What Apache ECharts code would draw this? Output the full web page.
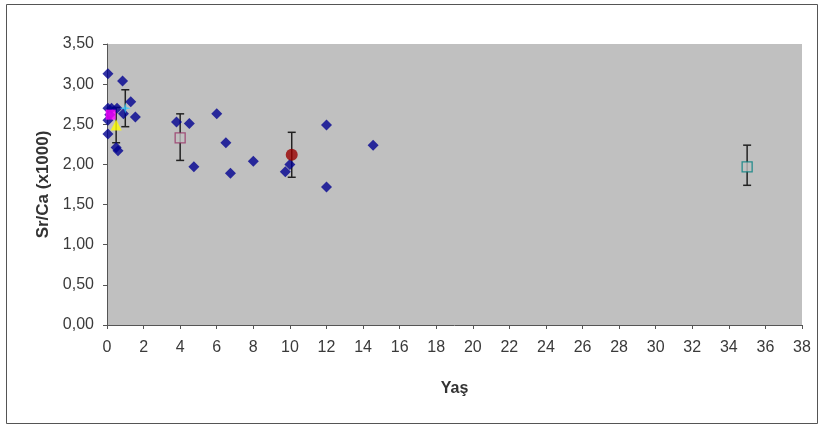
<!DOCTYPE html>
<html><head><meta charset="utf-8">
<script src="https://cdn.jsdelivr.net/npm/echarts@6/dist/echarts.min.js"></script>
<style>html,body{margin:0;padding:0;background:#fff}#c{width:824px;height:427px}</style>
</head><body><div id="c"></div>
<script>
const xTicks = [0,2,4,6,8,10,12,14,16,18,20,22,24,26,28,30,32,34,36,38];
const yTicks = ['0,00','0,50','1,00','1,50','2,00','2,50','3,00','3,50'];
const blueX = [0.05,0.85,0.05,0.25,0.55,0.05,0.05,0.5,0.6,1.3,1.55,0.15,0.9,3.8,4.5,6.0,6.5,4.75,6.75,8.0,9.75,10.0,12.0,12.0,14.55];
const blueY = [3.13,3.04,2.70,2.70,2.70,2.55,2.38,2.21,2.17,2.78,2.59,2.62,2.63,2.53,2.51,2.63,2.27,1.97,1.89,2.04,1.91,2.00,2.49,1.72,2.24];
const magenta = [0.2,2.62];
const yellow = [0.5,2.49,2.27,2.71];
const cyan = [1.0,2.70,2.47,2.93];
const pinkSq = [4.0,2.33,2.05,2.63];
const redCirc = [10.1,2.12,1.84,2.40];
const tealSq = [35.0,1.97,1.74,2.24];

const blueData = blueX.map((x,i)=>[x,blueY[i]]);
const errData = [yellow,cyan,pinkSq,redCirc,tealSq].map(a=>[a[0],a[2],a[3]]);

const chart = echarts.init(document.getElementById('c'));
const font = 'Liberation Sans, Arial, sans-serif';
chart.setOption({
  animation:false,
  backgroundColor:'#fff',
  graphic:[{type:'rect',shape:{x:6.5,y:4.5,width:811,height:419},style:{fill:'none',stroke:'#555',lineWidth:1},z:-1}],
  grid:{left:107,right:22,top:44,bottom:102,show:true,backgroundColor:'#c0c0c0',borderWidth:0},
  xAxis:{type:'value',min:0,max:38,interval:2,
    name:'Yaş',nameLocation:'middle',nameGap:56,
    nameTextStyle:{fontFamily:font,fontSize:16,fontWeight:'bold',color:'#333'},
    axisLine:{lineStyle:{color:'#555'}},axisTick:{show:true,length:4,lineStyle:{color:'#555'}},
    axisLabel:{fontFamily:font,fontSize:16,color:'#3a3a3a',margin:15},
    splitLine:{show:false}},
  yAxis:{type:'value',min:0,max:3.5,interval:0.5,
    name:'Sr/Ca (x1000)',nameLocation:'middle',nameGap:52,
    nameTextStyle:{fontFamily:font,fontSize:17,fontWeight:'bold',color:'#333'},
    axisLine:{show:true,lineStyle:{color:'#555'}},axisTick:{show:true,length:4,lineStyle:{color:'#555'}},
    axisLabel:{fontFamily:font,fontSize:16,color:'#3a3a3a',margin:13,formatter:v=>yTicks[Math.round(v/0.5)]},
    splitLine:{show:false}},
  series:[
    {type:'custom',renderItem:(p,api)=>{
      const x=api.value(0), lo=api.coord([x,api.value(1)]), hi=api.coord([x,api.value(2)]);
      const w=4;
      return {type:'group',children:[
        {type:'line',shape:{x1:lo[0],y1:lo[1],x2:hi[0],y2:hi[1]},style:{stroke:'#222',lineWidth:1.5}},
        {type:'line',shape:{x1:lo[0]-w,y1:lo[1],x2:lo[0]+w,y2:lo[1]},style:{stroke:'#222',lineWidth:1.5}},
        {type:'line',shape:{x1:hi[0]-w,y1:hi[1],x2:hi[0]+w,y2:hi[1]},style:{stroke:'#222',lineWidth:1.5}}
      ]};
    },data:errData,z:1},
    {type:'scatter',data:blueData,symbol:'diamond',symbolSize:11,itemStyle:{color:'#000090'},z:3},
    {type:'scatter',data:[magenta],symbol:'rect',symbolSize:10,itemStyle:{color:'#ff00ff'},z:4},
    {type:'scatter',data:[yellow.slice(0,2)],symbol:'triangle',symbolSize:11,itemStyle:{color:'#ffff00'},z:4},
    {type:'scatter',data:[cyan.slice(0,2)],symbol:'path://M0,-10L2,-2L10,0L2,2L0,10L-2,2L-10,0L-2,-2Z',symbolSize:11,itemStyle:{color:'#33ccff'},z:4},
    {type:'scatter',data:[pinkSq.slice(0,2)],symbol:'rect',symbolSize:10,itemStyle:{color:'#c0c0c0',borderColor:'#993366',borderWidth:1.3},z:4},
    {type:'scatter',data:[redCirc.slice(0,2)],symbol:'circle',symbolSize:12,itemStyle:{color:'#990000'},z:4},
    {type:'scatter',data:[tealSq.slice(0,2)],symbol:'rect',symbolSize:10,itemStyle:{color:'#c0c0c0',borderColor:'#008080',borderWidth:1.3},z:4}
  ]
});
</script></body></html>
